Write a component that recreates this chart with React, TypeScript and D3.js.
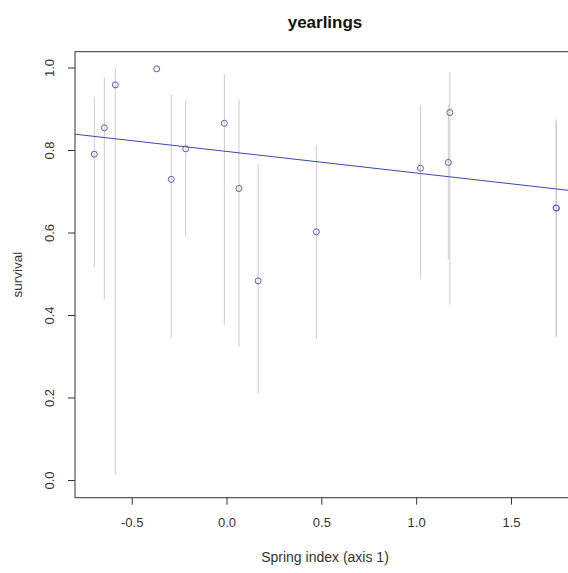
import React from "react";
import * as d3 from "d3";

const springIndex = [-0.700, -0.647, -0.589, -0.371, -0.294, -0.218, -0.014, 0.063, 0.164, 0.471, 1.020, 1.167, 1.175, 1.735, 1.737];
const survival = [0.791, 0.855, 0.959, 0.998, 0.730, 0.804, 0.866, 0.708, 0.484, 0.603, 0.757, 0.771, 0.892, 0.661, 0.660];
const lowerCI = [0.517, 0.439, 0.016, 0.998, 0.347, 0.591, 0.378, 0.324, 0.211, 0.343, 0.488, 0.536, 0.426, 0.347, 0.350];
const upperCI = [0.930, 0.977, 0.999, 0.998, 0.935, 0.921, 0.985, 0.924, 0.767, 0.813, 0.910, 0.910, 0.990, 0.876, 0.870];
const fitIntercept = 0.7976;
const fitSlope = -0.0523;
const xTicks = [-0.5, 0.0, 0.5, 1.0, 1.5];
const yTicks = [0.0, 0.2, 0.4, 0.6, 0.8, 1.0];

export default function App() {
  const W = 568, H = 573;
  const left = 75, right = 575, top = 51.7, bottom = 497.7;
  const x = d3.scaleLinear().domain([-0.8017, 1.835]).range([left, right]);
  const y = d3.scaleLinear().domain([-0.0417, 1.0395]).range([bottom, top]);
  const fd = x.domain();
  const line = d3.line<number>().x((v) => x(v)).y((v) => y(fitIntercept + fitSlope * v));
  const font = "Liberation Sans, Arial, sans-serif";
  const axisCol = "#333";
  return (
    <svg width={W} height={H} style={{ position: "absolute", left: 0, top: 0, background: "#fff" }} fontFamily={font}>
      <rect x={0} y={0} width={W} height={H} fill="#fff" />
      <text x={(left + right) / 2} y={28} textAnchor="middle" fontWeight="bold" fontSize={17} fill="#111">yearlings</text>
      {springIndex.map((v, i) => (
        <line key={"e" + i} x1={x(v)} x2={x(v)} y1={y(lowerCI[i])} y2={y(upperCI[i])} stroke="#cccccc" strokeWidth={1} />
      ))}
      <path d={line(fd) || ""} stroke="#3a4aa6" strokeWidth={1} fill="none" />
      {springIndex.map((v, i) => (
        <circle key={"p" + i} cx={x(v)} cy={y(survival[i])} r={3} fill="none" stroke="#5a62b8" strokeWidth={1} />
      ))}
      <rect x={left} y={top} width={right - left} height={bottom - top} fill="none" stroke={axisCol} strokeWidth={1} />
      {xTicks.map((t) => (
        <g key={"xt" + t}>
          <line x1={x(t)} x2={x(t)} y1={bottom} y2={bottom + 7} stroke={axisCol} />
          <text x={x(t)} y={527} textAnchor="middle" fontSize={13} fill="#333">{t.toFixed(1)}</text>
        </g>
      ))}
      {yTicks.map((t) => (
        <g key={"yt" + t}>
          <line x1={left - 7} x2={left} y1={y(t)} y2={y(t)} stroke={axisCol} />
          <text transform={`translate(54,${y(t)}) rotate(-90)`} textAnchor="middle" fontSize={13} fill="#333">{t.toFixed(1)}</text>
        </g>
      ))}
      <text x={(left + right) / 2} y={562} textAnchor="middle" fontSize={14} fill="#333">Spring index (axis 1)</text>
      <text transform={`translate(22,${(top + bottom) / 2}) rotate(-90)`} textAnchor="middle" fontSize={13.5} fill="#333">survival</text>
    </svg>
  );
}
